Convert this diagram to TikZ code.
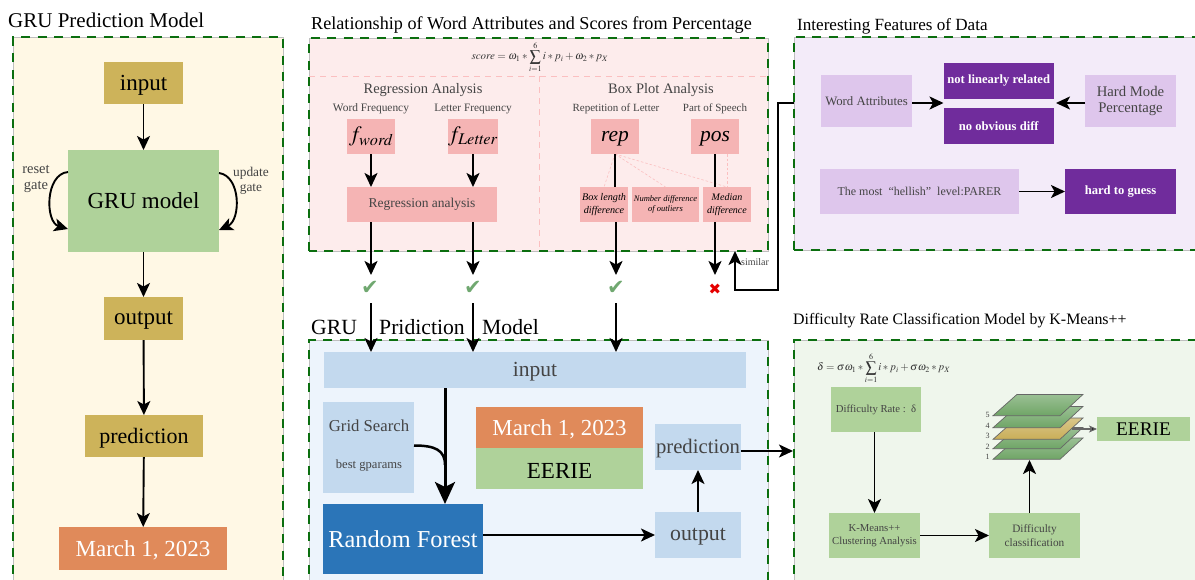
\documentclass[tikz,border=0pt]{standalone}
\usepackage{mathptmx}
\usepackage{fontspec}
\setmainfont{Liberation Serif}
\newfontfamily\symf{DejaVu Sans}
\usetikzlibrary{arrows.meta,calc}
\definecolor{pgreen}{HTML}{0B6E0F}
\definecolor{gold}{HTML}{CDB35A}
\definecolor{lgreen}{HTML}{AFD29A}
\definecolor{orng}{HTML}{E08A5A}
\definecolor{pinkb}{HTML}{F5B4B4}
\definecolor{pinkd}{HTML}{FBBFC0}
\definecolor{purp}{HTML}{702C9C}
\definecolor{lpurp}{HTML}{DEC6EC}
\definecolor{lblue}{HTML}{C3D9EE}
\definecolor{dblue}{HTML}{2B75B8}
\definecolor{txtg}{HTML}{444444}
\definecolor{laygreen}{HTML}{6FA566}
\definecolor{laygold}{HTML}{C9AE58}
\definecolor{chk}{HTML}{70A870}
\newcommand{\fz}[1]{\fontsize{#1pt}{\dimexpr #1pt*115/100\relax}\selectfont}
\newcommand{\dn}[1]{\raisebox{-2pt}[\height][\depth]{#1}}
\tikzset{
  x=1pt,y=-1pt,
  fs/.style={font=\fz{#1}},
  bx/.style={inner sep=0pt,outer sep=0pt,align=center,text=txtg},
  pan/.style={draw=pgreen,line width=2.4pt,dash pattern=on 9pt off 7.5pt},
  pedge/.style={draw=black!25,line width=.6pt},
  arr/.style={draw=black,line width=1.9pt,-{Stealth[length=14pt,width=13pt,inset=3.5pt]}},
  arrb/.style={draw=black,line width=3pt,-{Stealth[length=22pt,width=20pt,inset=5pt]}},
  lin/.style={draw=black,line width=1.9pt},
  pdash/.style={draw=pinkd,line width=1pt,dash pattern=on 6pt off 5pt},
  pdot/.style={draw=pinkd,line width=.6pt,dash pattern=on 2.5pt off 2pt},
  plain/.style={inner sep=0pt,outer sep=0pt,align=center,text=txtg},
  title/.style={inner sep=0pt,anchor=west,text=black},
  lay/.style={draw=black!60,line width=.7pt,top color=#1!70,bottom color=#1},
}
\newcommand{\bx}[7]{\node[bx,minimum width={(#4-#2)*1pt},minimum height={(#5-#3)*1pt},#6] (#1) at ({(#2+#4)/2},{(#3+#5)/2}) {#7};}
\begin{document}
\begin{tikzpicture}
\useasboundingbox (0,0) rectangle (1195,579);
% ---- panel backgrounds
\fill[pedge,fill={rgb,255:red,255;green,248;blue,229}] (13,37) rectangle (283,590);
\fill[pedge,fill={rgb,255:red,253;green,236;blue,236}] (309,38) rectangle (768,251);
\fill[pedge,fill={rgb,255:red,243;green,235;blue,249}] (794,37) rectangle (1200,250);
\fill[pedge,fill={rgb,255:red,237;green,244;blue,252}] (309,340) rectangle (768,590);
\fill[pedge,fill={rgb,255:red,239;green,246;blue,236}] (794,340) rectangle (1200,590);
\draw[pan] (13,590) -- (13,37) -- (283,37) -- (283,590);
\draw[pan] (309,251) -- (309,38) -- (768,38) -- (768,251) -- cycle;
\draw[pan] (794,250) -- (794,37) -- (1200,37);
\draw[pan] (794,250) -- (1200,250);
\draw[pan] (309,590) -- (309,340) -- (768,340) -- (768,590);
\draw[pan] (794,590) -- (794,340) -- (1200,340);
% ---- titles
\node[title,fs=21] (t1) at (8,20) {GRU Prediction Model};
\node[title,fs=18.15] (t2) at (311,25) {Relationship of Word Attributes and Scores from Percentage};
\node[title,fs=17.1] (t3) at (797,26) {Interesting Features of Data};
\node[title,fs=21.7] (t4a) at (311,327) {GRU};
\node[title,fs=21.7] (t4b) at (379,327) {Pridiction};
\node[title,fs=21.7] (t4c) at (482,327) {Model};
\node[title,fs=15.9] (t5) at (793,321) {Difficulty Rate Classification Model by K-Means++};
% ---- panel 1
\bx{pinput}{104}{62}{183}{104}{fill=gold,fs=23,text=black}{\dn{input}}
\bx{pgru}{68}{150}{219}{252}{fill=lgreen,fs=23,text=black}{GRU model}
\bx{poutput}{104}{297}{183}{340}{fill=gold,fs=23,text=black}{\dn{output}}
\bx{ppred}{85}{415}{203}{457}{fill=gold,fs=22,text=black}{\dn{prediction}}
\bx{pdate}{59}{527}{227}{570}{fill=orng,fs=23,text=white}{\dn{March 1, 2023}}
\draw[arr] (pinput) -- (pgru);
\draw[arr] (pgru) -- (poutput);
\draw[arr] (poutput) -- (ppred);
\draw[arr] (ppred) -- (pdate);
\draw[arr] ($(pgru.west)+(0,-29)$) .. controls (45,174) and (45,222) .. ($(pgru.west)+(0,28)$);
\draw[arr] ($(pgru.east)+(0,-28)$) .. controls (241,176) and (241,220) .. ($(pgru.east)+(0,29)$);
\node[plain,fs=14.5] (lreset) at (36,179) {reset\\gate};
\node[plain,fs=13.4] (lupd) at (251,181) {update\\gate};
% ---- panel 2
\draw[pdash] (309,76) -- (768,76);
\draw[pdash] (539,76) -- (539,251);
\node[plain,fs=11,text=black!80] (fscore) at (540,57) {$\displaystyle\mathit{score}=\omega_1 * \sum_{i=1}^{6} i * p_i + \omega_2 * p_X$};
\node[plain,fs=14.5] (lreg) at (423,90) {Regression Analysis};
\node[plain,fs=14.5] (lbox) at (661,90) {Box Plot Analysis};
\node[plain,fs=11.4] (lwf) at (371,109) {Word Frequency};
\node[plain,fs=11.3] (llf) at (473,109) {Letter Frequency};
\node[plain,fs=11] (lrl) at (616,109) {Repetition of Letter};
\node[plain,fs=11] (lps) at (715,109) {Part of Speech};
\bx{fw}{347}{119}{395}{154}{fill=pinkb,text=black,fs=22}{$f_{\mathit{word}}$}
\bx{fl}{449}{119}{497}{154}{fill=pinkb,text=black,fs=22}{$f_{\mathit{Letter}}$}
\bx{rep}{591}{119}{639}{154}{fill=pinkb,text=black,fs=21.5}{\dn{\itshape rep}}
\bx{pos}{691}{119}{739}{154}{fill=pinkb,text=black,fs=21.5}{\dn{\itshape pos}}
\bx{rega}{347}{187}{497}{222}{fill=pinkb,fs=13.5}{Regression analysis}
\bx{blen}{580}{187}{628}{222}{fill=pinkb,text=black,fs=10.2}{\itshape Box length\\[1pt]\itshape difference}
\bx{ndiff}{632}{187}{699}{222}{fill=pinkb,text=black,fs=8.5}{\itshape Number difference\\[1pt]\itshape of outliers}
\bx{mdiff}{703}{187}{751}{222}{fill=pinkb,text=black,fs=10}{\itshape Median\\[1pt]\itshape difference}
\draw[pdot] (rep.south) -- (blen.north);
\draw[pdot] (rep.south) -- (ndiff.north);
\draw[pdot] (rep.south) -- (mdiff.north);
\draw[pdot] (pos.south -| mdiff.north) -- (mdiff.north);
\draw[arr] (fw) -- (fw |- rega.north);
\draw[arr] (fl) -- (fl |- rega.north);
\draw[lin] (rep) -- (rep |- blen.north);
\draw[lin] (pos) -- (pos |- mdiff.north);
\node[plain,font=\symf\fontsize{21}{21}\selectfont,text=chk] (c1) at (370,288) {✔};
\node[plain,font=\symf\fontsize{21}{21}\selectfont,text=chk] (c2) at (473,288) {✔};
\node[plain,font=\symf\fontsize{21}{21}\selectfont,text=chk] (c3) at (616,288) {✔};
\node[plain,font=\symf\fontsize{15}{15}\selectfont,text=red!90!black] (c4) at (715,289) {✖};
\coordinate (e1) at (371,275);
\coordinate (e2) at (473,275);
\coordinate (e3) at (616,275);
\coordinate (e4) at (715,275);
\draw[arr] (rega.south -| e1) -- (e1);
\draw[arr] (rega.south -| e2) -- (e2);
\draw[arr] (blen.south -| e3) -- (e3);
\draw[arr] (mdiff.south -| e4) -- (e4);
\coordinate (s1) at (371,303);
\coordinate (s2) at (473,303);
\coordinate (s3) at (616,303);
% ---- panel 3
\bx{wa}{821}{75}{912}{127}{fill=lpurp,fs=12.8}{Word Attributes}
\bx{nl}{943.5}{62.5}{1054}{99}{fill=purp,text=white,fs=12.6}{\bfseries not linearly related}
\bx{no}{943.5}{107.5}{1054}{144}{fill=purp,text=white,fs=12.6}{\bfseries no obvious diff}
\bx{hm}{1085}{75}{1176}{127}{fill=lpurp,fs=14.7}{Hard Mode\\Percentage}
\bx{tm}{820}{169}{1019}{214}{fill=lpurp,fs=12}{The most\ \ “hellish”\ \ level:PARER}
\bx{hg}{1065}{169}{1176}{214}{fill=purp,text=white,fs=12.6}{\bfseries hard to guess}
\coordinate (mid1) at (943.5,103);
\coordinate (mid2) at (1056,103);
\draw[arr] (wa.east |- mid1) -- (mid1);
\draw[arr] (hm.west |- mid2) -- (mid2);
\draw[arr] (tm) -- (hg);
\coordinate (sim0) at (794,103);
\coordinate (sim1) at (778,103);
\coordinate (sim2) at (778,290);
\coordinate (sim3) at (735,290);
\coordinate (sim4) at (735,251);
\draw[arr] (sim0) -- (sim1) -- (sim2) -- (sim3) -- (sim4);
\node[plain,fs=10] (lsim) at (755,262) {similar};
% ---- panel 4
\bx{minp}{324}{352}{746}{388}{fill=lblue,fs=21.5}{\dn{input}}
\bx{grid}{323}{402}{414}{493}{fill=lblue}{}
\node[plain,fs=16.7] (lgrid) at (369,426) {Grid Search};
\node[plain,fs=12.6] (lbest) at (369,465) {best gparams};
\bx{rf}{323}{504}{483}{574}{fill=dblue,text=white,fs=24.3}{Random Forest}
\bx{mdate}{476}{407}{643}{448}{fill=orng,text=white,fs=22.9}{\dn{March 1, 2023}}
\bx{mee}{476}{448}{643}{489}{fill=lgreen,text=black,fs=23}{\dn{EERIE}}
\bx{mpred}{655}{424}{741}{470}{fill=lblue,fs=20.7}{\dn{prediction}}
\bx{mout}{655}{512}{741}{558}{fill=lblue,fs=21.8}{\dn{output}}
\draw[arr] (s1) -- (s1 |- minp.north);
\draw[arr] (s2) -- (s2 |- minp.north);
\draw[arr] (s3) -- (s3 |- minp.north);
\coordinate (rft) at (445,504);
\coordinate (gc) at (414,445.5);
\coordinate (gm) at (445,465);
\draw[arrb] (minp.south -| rft) -- (rft);
\draw[line width=2.5pt] (gc) .. controls (435,445.5) and (445,450) .. (gm);
\draw[arr] (rf.east |- mout.west) -- (mout.west);
\draw[arr] (mout) -- (mpred);
% ---- panel 5
\node[plain,fs=10.8,text=black!80,anchor=west] (fdelta) at (817,368) {$\displaystyle\delta=\sigma\omega_1 * \sum_{i=1}^{6} i * p_i + \sigma\omega_2 * p_X$};
\bx{dr}{831}{387}{921}{432}{fill=lgreen,fs=10.7}{Difficulty Rate :\ \ δ}
\bx{km}{829}{513}{920}{558}{fill=lgreen,fs=10.7}{K-Means++\\[1pt]Clustering Analysis}
\bx{dc}{989}{513}{1080}{558}{fill=lgreen,fs=11.3}{Difficulty\\[1pt]classification}
\bx{dee}{1097}{417}{1190}{441}{fill=lgreen,text=black,fs=19.3}{EERIE}
\draw[lay=laygreen] (993,459.3) -- (1017,438) -- (1083,438) -- (1060,459.3) -- cycle;
\draw[lay=laygreen] (993,448.7) -- (1017,427.4) -- (1083,427.4) -- (1060,448.7) -- cycle;
\draw[lay=laygold] (993,439.3) -- (1017,418) -- (1083,418) -- (1060,439.3) -- cycle;
\draw[lay=laygreen] (993,427.7) -- (1017,406.4) -- (1083,406.4) -- (1060,427.7) -- cycle;
\draw[lay=laygreen] (993,415.7) -- (1017,394.4) -- (1083,394.4) -- (1060,415.7) -- cycle;
\node[plain,fs=8] (n5) at (987.5,415) {5};
\node[plain,fs=8] (n4) at (987.5,426) {4};
\node[plain,fs=8] (n3) at (987.5,436) {3};
\node[plain,fs=8] (n2) at (987.5,447) {2};
\node[plain,fs=8] (n1) at (987.5,457) {1};
\coordinate (l3) at (1072,429);
\coordinate (stk) at (1029.5,460);
\draw[arr] (dr.south -| km) -- (km.north);
\draw[arr] (km.east |- dc) -- (dc.west);
\draw[arr] (dc.north -| stk) -- (stk);
\draw[black!60,line width=1.1pt,-{Stealth[length=8pt,width=7pt,inset=2pt,fill=black]}] (l3) -- (dee.west);
\coordinate (pan5l) at (793,451);
\draw[arr] (mpred.east |- pan5l) -- (pan5l);
\end{tikzpicture}
\end{document}
